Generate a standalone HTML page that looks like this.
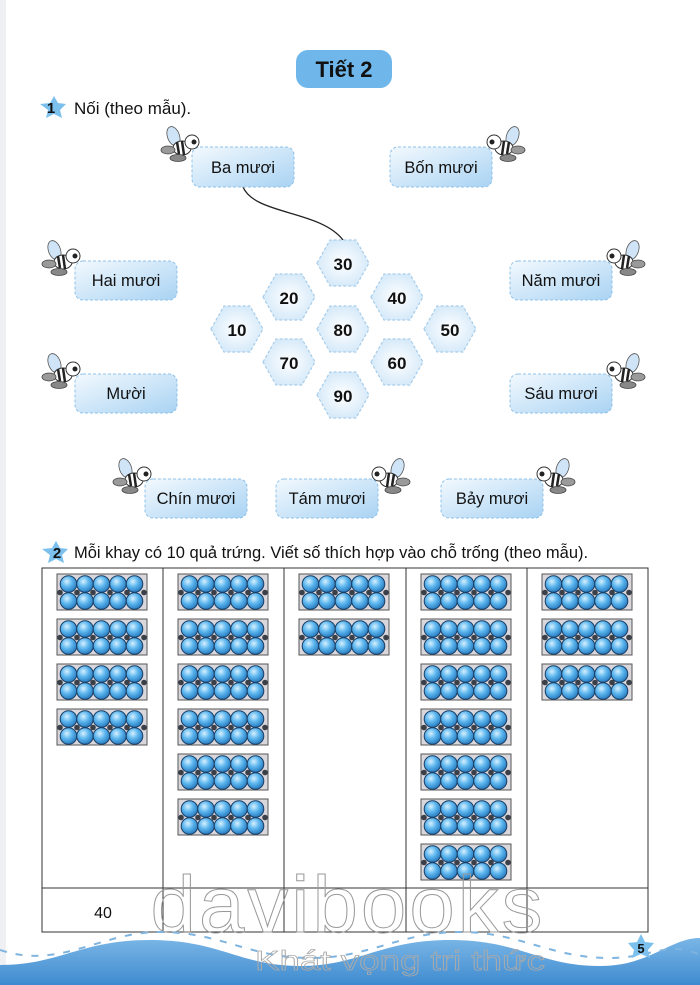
<!DOCTYPE html>
<html><head><meta charset="utf-8">
<style>
html,body{margin:0;padding:0;background:#fff;}
body{width:700px;height:985px;overflow:hidden;position:relative;font-family:"Liberation Sans",sans-serif;}
svg{position:absolute;left:0;top:0;}
</style></head>
<body>
<svg width="700" height="985" viewBox="0 0 700 985" xmlns="http://www.w3.org/2000/svg">
<defs>
<linearGradient id="lab" x1="0" y1="0" x2="1" y2="1">
<stop offset="0" stop-color="#f3f9fe"/><stop offset="1" stop-color="#a9d3f3"/>
</linearGradient>
<radialGradient id="hexg" cx="0.5" cy="0.5" r="0.6">
<stop offset="0" stop-color="#ffffff"/><stop offset="1" stop-color="#cfe6f8"/>
</radialGradient>
<radialGradient id="egg" cx="0.4" cy="0.35" r="0.65">
<stop offset="0" stop-color="#d6f0ff"/><stop offset="0.5" stop-color="#5cb6ee"/><stop offset="1" stop-color="#2a7cc0"/>
</radialGradient>
<linearGradient id="wave" x1="0" y1="0" x2="0" y2="1">
<stop offset="0" stop-color="#7ab6e6"/><stop offset="1" stop-color="#3f8bd0"/>
</linearGradient>
<g id="tray">
<rect x="0" y="0" width="90" height="36" fill="#d9d6dc" stroke="#555" stroke-width="1"/>
<g fill="url(#egg)" stroke="#1a3f66" stroke-width="1">
<circle cx="11.5" cy="10" r="8.3"/><circle cx="28" cy="10" r="8.3"/><circle cx="44.5" cy="10" r="8.3"/><circle cx="61" cy="10" r="8.3"/><circle cx="77.5" cy="10" r="8.3"/>
<circle cx="11.5" cy="27" r="8.3"/><circle cx="28" cy="27" r="8.3"/><circle cx="44.5" cy="27" r="8.3"/><circle cx="61" cy="27" r="8.3"/><circle cx="77.5" cy="27" r="8.3"/>
</g>
<g fill="#3a3f48"><circle cx="3" cy="18.5" r="2.8"/><circle cx="20" cy="18.5" r="2.8"/><circle cx="36" cy="18.5" r="2.8"/><circle cx="53" cy="18.5" r="2.8"/><circle cx="70" cy="18.5" r="2.8"/><circle cx="87" cy="18.5" r="2.8"/></g>
</g>
<g id="hex">
<polygon points="-26,0 -13,-23 13,-23 26,0 13,23 -13,23" fill="url(#hexg)" stroke="#a8cdea" stroke-width="1.2" stroke-dasharray="3 2"/>
</g>
<g id="bee">
<ellipse cx="-4" cy="-14" rx="6" ry="10" fill="#cfe4f7" stroke="#555" stroke-width="0.8" transform="rotate(-20)"/>
<ellipse cx="0" cy="0" rx="9" ry="7" fill="#fff" stroke="#333" stroke-width="1"/>
<path d="M-5,-6 L-3,6 M0,-7 L2,7" stroke="#222" stroke-width="2.5"/>
<circle cx="10" cy="-6" r="7" fill="#fff" stroke="#333" stroke-width="1"/>
<circle cx="12" cy="-6" r="2.5" fill="#222"/>
<ellipse cx="-14" cy="2" rx="7" ry="4" fill="#9a9a9a" stroke="#444" stroke-width="0.8"/>
<ellipse cx="-4" cy="10" rx="8" ry="3.5" fill="#888" stroke="#444" stroke-width="0.8"/>
</g>
</defs>

<rect x="0" y="0" width="6" height="985" fill="#eef0f3"/>

<rect x="296" y="50" width="96" height="38" rx="12" fill="#6fb7ea"/>
<text x="344" y="77" font-size="22" font-weight="bold" text-anchor="middle" fill="#111">Tiết 2</text>

<polygon points="54,96 58,103 66,104 60,110 62,118 54,114 46,118 48,110 40,104 50,103" fill="#7cc0ee"/>
<text x="51" y="113" font-size="15" font-weight="bold" text-anchor="middle" fill="#111">1</text>
<text x="74" y="114" font-size="17" fill="#111">Nối (theo mẫu).</text>

<path d="M243,187 C255,215 320,210 343,240" fill="none" stroke="#222" stroke-width="1.3"/>

<g font-size="16.5" fill="#111" text-anchor="middle">
<rect x="192" y="147" width="102" height="40" rx="8" fill="url(#lab)" stroke="#8fc2ea" stroke-dasharray="3 2"/><text x="243" y="173">Ba mươi</text>
<rect x="390" y="147" width="102" height="40" rx="8" fill="url(#lab)" stroke="#8fc2ea" stroke-dasharray="3 2"/><text x="441" y="173">Bốn mươi</text>
<rect x="75" y="261" width="102" height="39" rx="8" fill="url(#lab)" stroke="#8fc2ea" stroke-dasharray="3 2"/><text x="126" y="286">Hai mươi</text>
<rect x="510" y="261" width="102" height="39" rx="8" fill="url(#lab)" stroke="#8fc2ea" stroke-dasharray="3 2"/><text x="561" y="286">Năm mươi</text>
<rect x="75" y="374" width="102" height="39" rx="8" fill="url(#lab)" stroke="#8fc2ea" stroke-dasharray="3 2"/><text x="126" y="399">Mười</text>
<rect x="510" y="374" width="102" height="39" rx="8" fill="url(#lab)" stroke="#8fc2ea" stroke-dasharray="3 2"/><text x="561" y="399">Sáu mươi</text>
<rect x="145" y="479" width="102" height="39" rx="8" fill="url(#lab)" stroke="#8fc2ea" stroke-dasharray="3 2"/><text x="196" y="504">Chín mươi</text>
<rect x="276" y="479" width="102" height="39" rx="8" fill="url(#lab)" stroke="#8fc2ea" stroke-dasharray="3 2"/><text x="327" y="504">Tám mươi</text>
<rect x="441" y="479" width="102" height="39" rx="8" fill="url(#lab)" stroke="#8fc2ea" stroke-dasharray="3 2"/><text x="492" y="504">Bảy mươi</text>
</g>

<use href="#bee" x="182" y="148"/>
<use href="#bee" transform="translate(504,148) scale(-1,1)"/>
<use href="#bee" x="63" y="262"/>
<use href="#bee" transform="translate(624,262) scale(-1,1)"/>
<use href="#bee" x="63" y="375"/>
<use href="#bee" transform="translate(624,375) scale(-1,1)"/>
<use href="#bee" x="134" y="480"/>
<use href="#bee" transform="translate(389,480) scale(-1,1)"/>
<use href="#bee" transform="translate(554,480) scale(-1,1)"/>

<g font-size="17" font-weight="bold" fill="#111" text-anchor="middle">
<use href="#hex" x="343" y="263"/><text x="343" y="270">30</text>
<use href="#hex" x="289" y="297"/><text x="289" y="304">20</text>
<use href="#hex" x="397" y="297"/><text x="397" y="304">40</text>
<use href="#hex" x="237" y="329"/><text x="237" y="336">10</text>
<use href="#hex" x="343" y="329"/><text x="343" y="336">80</text>
<use href="#hex" x="450" y="329"/><text x="450" y="336">50</text>
<use href="#hex" x="289" y="362"/><text x="289" y="369">70</text>
<use href="#hex" x="397" y="362"/><text x="397" y="369">60</text>
<use href="#hex" x="343" y="395"/><text x="343" y="402">90</text>
</g>

<polygon points="56,541 60,548 68,549 62,555 64,563 56,559 48,563 50,555 42,549 52,548" fill="#7cc0ee"/>
<text x="57" y="558" font-size="15" font-weight="bold" text-anchor="middle" fill="#111">2</text>
<text x="74" y="558" font-size="16.5" fill="#111">Mỗi khay có 10 quả trứng. Viết số thích hợp vào chỗ trống (theo mẫu).</text>

<g stroke="#333" stroke-width="1" fill="none">
<rect x="42" y="568" width="606" height="364"/>
<line x1="42" y1="888" x2="648" y2="888"/>
<line x1="163" y1="568" x2="163" y2="932"/>
<line x1="284" y1="568" x2="284" y2="932"/>
<line x1="406" y1="568" x2="406" y2="932"/>
<line x1="527" y1="568" x2="527" y2="932"/>
</g>
<text x="103" y="918" font-size="16" text-anchor="middle" fill="#111">40</text>

<use href="#tray" x="57" y="574"/><use href="#tray" x="57" y="619"/><use href="#tray" x="57" y="664"/><use href="#tray" x="57" y="709"/>
<use href="#tray" x="178" y="574"/><use href="#tray" x="178" y="619"/><use href="#tray" x="178" y="664"/><use href="#tray" x="178" y="709"/><use href="#tray" x="178" y="754"/><use href="#tray" x="178" y="799"/>
<use href="#tray" x="299" y="574"/><use href="#tray" x="299" y="619"/>
<use href="#tray" x="421" y="574"/><use href="#tray" x="421" y="619"/><use href="#tray" x="421" y="664"/><use href="#tray" x="421" y="709"/><use href="#tray" x="421" y="754"/><use href="#tray" x="421" y="799"/><use href="#tray" x="421" y="844"/>
<use href="#tray" x="542" y="574"/><use href="#tray" x="542" y="619"/><use href="#tray" x="542" y="664"/>

<text x="348" y="932" font-size="80" text-anchor="middle" fill="none" stroke="#999" stroke-width="1" font-family="Liberation Sans, sans-serif" letter-spacing="3" textLength="395" lengthAdjust="spacingAndGlyphs">davibooks</text>

<path d="M0,965 C60,965 80,940 150,940 C220,940 240,966 300,966 C360,966 380,940 450,940 C520,940 540,966 600,966 C650,966 670,938 700,938 L700,985 L0,985 Z" fill="url(#wave)"/>
<path d="M0,950 C60,970 100,932 160,932 C220,932 250,958 310,958 C370,958 400,932 460,932 C520,932 550,958 610,958 C650,958 670,940 700,955" fill="none" stroke="#7fb4df" stroke-width="2" stroke-dasharray="7 9"/>
<polygon points="641,934 645,942 654,943 648,950 650,958 641,954 632,958 634,950 628,943 637,942" fill="#7cc0ee"/>
<text x="641" y="953" font-size="13" font-weight="bold" text-anchor="middle" fill="#111">5</text>
<text x="400" y="970" font-size="28" text-anchor="middle" fill="none" stroke="#aaa" stroke-width="0.8" font-family="Liberation Sans, sans-serif" textLength="290" lengthAdjust="spacingAndGlyphs">Khát vọng tri thức</text>
</svg>
</body></html>
